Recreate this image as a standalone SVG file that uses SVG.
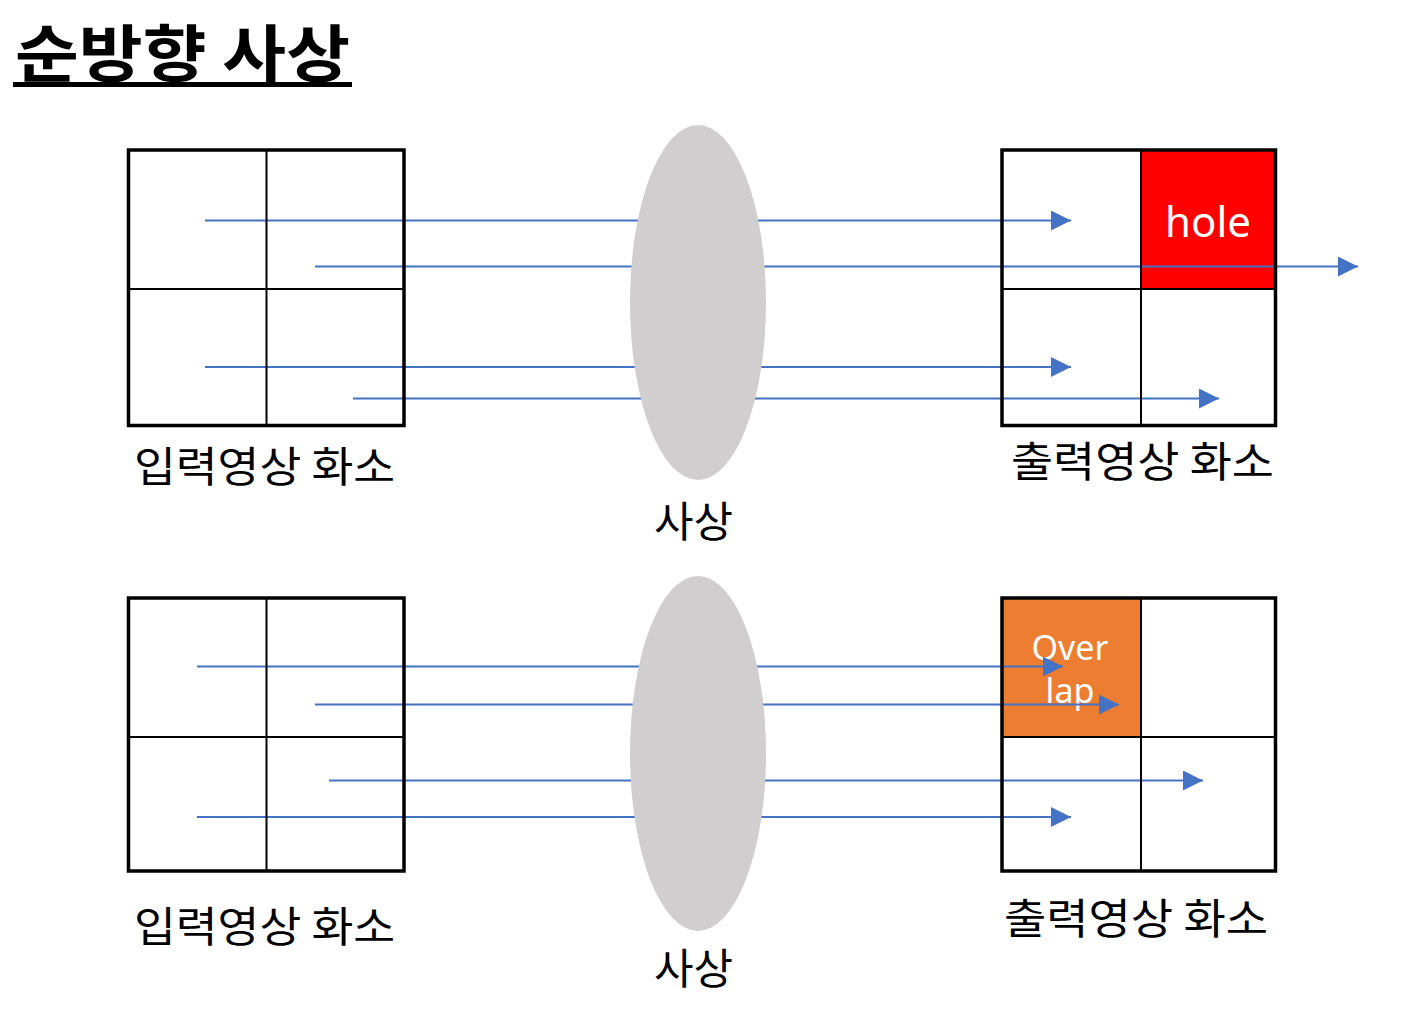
<svg xmlns="http://www.w3.org/2000/svg" width="1404" height="1024" viewBox="0 0 1404 1024">
<defs>
<style>
.box{fill:none;stroke:#000;stroke-width:3.5}
.grid{stroke:#000;stroke-width:2;fill:none}
.ray{stroke:#4472C4;stroke-width:2;fill:none}
.lens{fill:#D0CECE}
.lbl{font-family:"Noto Sans CJK KR","Noto Sans",sans-serif;font-size:42px;fill:#000}
.wt{font-family:"Noto Sans","Noto Sans CJK KR",sans-serif;fill:#fff;text-anchor:middle}
</style>
<marker id="ah" viewBox="0 0 20 20" refX="20" refY="10" markerWidth="20" markerHeight="20" markerUnits="userSpaceOnUse" orient="auto">
<path d="M0,0 L20,10 L0,20 Z" fill="#4472C4"/>
</marker>
</defs>
<rect width="1404" height="1024" fill="#fff"/>
<g id="title">
<text x="15" y="77" font-family="'Noto Sans CJK KR',sans-serif" font-weight="bold" font-size="62" textLength="335" lengthAdjust="spacingAndGlyphs">순방향 사상</text>
<rect x="13" y="82" width="339" height="5" fill="#000"/>
</g>
<g id="top-output-hole">
<rect x="1141" y="150" width="134.5" height="139" fill="#FF0000"/>
<text class="wt" x="1208" y="237" font-size="42">hole</text>
</g>
<g id="bottom-output-overlap">
<rect x="1002" y="598" width="139" height="139" fill="#ED7D31"/>
<text class="wt" x="1070" y="660" font-size="34">Over</text>
<text class="wt" x="1070" y="703" font-size="34">lap</text>
</g>
<g id="connectors">
<line class="ray" x1="205" y1="220.5" x2="1071" y2="220.5" marker-end="url(#ah)"/>
<line class="ray" x1="315" y1="266.5" x2="1358" y2="266.5" marker-end="url(#ah)"/>
<line class="ray" x1="205" y1="367" x2="1071" y2="367" marker-end="url(#ah)"/>
<line class="ray" x1="353" y1="398.5" x2="1219" y2="398.5" marker-end="url(#ah)"/>
<line class="ray" x1="197" y1="666.5" x2="1063" y2="666.5" marker-end="url(#ah)"/>
<line class="ray" x1="315" y1="704.5" x2="1119" y2="704.5" marker-end="url(#ah)"/>
<line class="ray" x1="329" y1="780.5" x2="1203" y2="780.5" marker-end="url(#ah)"/>
<line class="ray" x1="197" y1="817" x2="1071" y2="817" marker-end="url(#ah)"/>
</g>
<g id="top-input">
<rect class="box" x="128.5" y="150" width="275.5" height="275.5"/>
<line class="grid" x1="266.5" y1="150" x2="266.5" y2="425.5"/>
<line class="grid" x1="128.5" y1="289" x2="404" y2="289"/>
<text class="lbl" x="134" y="482" textLength="261" lengthAdjust="spacingAndGlyphs">입력영상 화소</text>
</g>
<g id="top-lens">
<ellipse class="lens" cx="698" cy="302.5" rx="68" ry="177.5"/>
<text class="lbl" x="654" y="537" textLength="79" lengthAdjust="spacingAndGlyphs">사상</text>
</g>
<g id="top-output">
<rect class="box" x="1002" y="150" width="273.5" height="275.5"/>
<line class="grid" x1="1141" y1="150" x2="1141" y2="425.5"/>
<line class="grid" x1="1002" y1="289" x2="1275.5" y2="289"/>
<text class="lbl" x="1011" y="477" textLength="263" lengthAdjust="spacingAndGlyphs">출력영상 화소</text>
</g>
<g id="bottom-input">
<rect class="box" x="128.5" y="598" width="275.5" height="273"/>
<line class="grid" x1="266.5" y1="598" x2="266.5" y2="871"/>
<line class="grid" x1="128.5" y1="737" x2="404" y2="737"/>
<text class="lbl" x="134" y="942" textLength="261" lengthAdjust="spacingAndGlyphs">입력영상 화소</text>
</g>
<g id="bottom-lens">
<ellipse class="lens" cx="698" cy="753.5" rx="68" ry="177.5"/>
<text class="lbl" x="654" y="984" textLength="79" lengthAdjust="spacingAndGlyphs">사상</text>
</g>
<g id="bottom-output">
<rect class="box" x="1002" y="598" width="273.5" height="273"/>
<line class="grid" x1="1141" y1="598" x2="1141" y2="871"/>
<line class="grid" x1="1002" y1="737" x2="1275.5" y2="737"/>
<text class="lbl" x="1004" y="934" textLength="264" lengthAdjust="spacingAndGlyphs">출력영상 화소</text>
</g>
</svg>
